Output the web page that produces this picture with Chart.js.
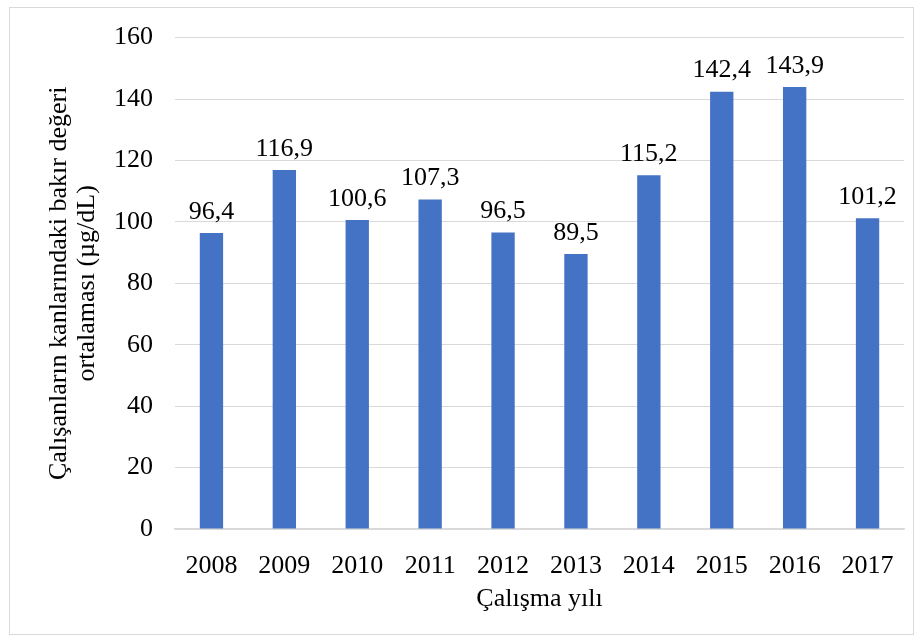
<!DOCTYPE html>
<html>
<head>
<meta charset="utf-8">
<script src="https://cdn.jsdelivr.net/npm/chart.js@4"></script>
<style>
    html, body { margin: 0; padding: 0; background: #fff; }
    #frame {
        position: absolute; left: 9px; top: 7px; width: 905px; height: 628px;
        border: 1.5px solid #d9d9d9; box-sizing: border-box;
    }
    #wrap { position: absolute; left: 0; top: 0; width: 923px; height: 644px; }
</style>
</head>
<body>
<div id="frame"></div>
<div id="wrap"><canvas id="copper"></canvas></div>
<script>
// Çalışma yılları ve bakır ortalamaları
const years = ["2008", "2009", "2010", "2011", "2012", "2013", "2014", "2015", "2016", "2017"];
const copperMeans = [96.4, 116.9, 100.6, 107.3, 96.5, 89.5, 115.2, 142.4, 143.9, 101.2];
const yTicks = [0, 20, 40, 60, 80, 100, 120, 140, 160];

const serif = "'Liberation Serif', 'Times New Roman', serif";

// etiketler: virgüllü ondalık
const barLabels = {
    id: "barLabels",
    afterDatasetsDraw(chart) {
        const ctx = chart.ctx;
        const meta = chart.getDatasetMeta(0);
        ctx.save();
        ctx.font = "26px " + serif;
        ctx.fillStyle = "#000";
        ctx.textAlign = "center";
        ctx.textBaseline = "middle";
        meta.data.forEach((bar, i) => {
            const txt = copperMeans[i].toFixed(1).replace(".", ",");
            ctx.fillText(txt, bar.x, bar.y - 21);
        });
        ctx.restore();
    },
};

new Chart(document.getElementById("copper"), {
    type: "bar",
    data: {
        labels: years,
        datasets: [
            {
                data: copperMeans,
                backgroundColor: "#4472C4",
                barPercentage: 0.32,
                categoryPercentage: 1,
            },
        ],
    },
    options: {
        responsive: true,
        maintainAspectRatio: false,
        animation: false,
        layout: { padding: { left: 40, right: 19, top: 36, bottom: 25 } },
        plugins: {
            legend: { display: false },
            tooltip: { enabled: false },
        },
        scales: {
            x: {
                grid: { display: false },
                border: { display: true, color: "#d9d9d9", width: 1.5 },
                ticks: { color: "#000", font: { family: serif, size: 26 }, padding: 14, maxRotation: 0 },
                title: {
                    display: true,
                    text: "Çalışma yılı",
                    color: "#000",
                    font: { family: serif, size: 26 },
                    padding: 4,
                },
                afterFit(s) { s.height = 90; },
            },
            y: {
                min: 0,
                max: 160,
                afterBuildTicks(s) { s.ticks = yTicks.map((v) => ({ value: v })); },
                grid: { color: "#d9d9d9", lineWidth: 1, drawTicks: false },
                border: { display: false },
                ticks: { color: "#000", font: { family: serif, size: 26 }, padding: 22 },
                title: {
                    display: true,
                    text: ["Çalışanların kanlarındaki bakır değeri", "ortalaması (µg/dL)"],
                    color: "#000",
                    font: { family: serif, size: 26, lineHeight: 1.08 },
                    padding: { top: 5, bottom: 0 },
                },
                afterFit(s) { s.width = 135; },
            },
        },
    },
    plugins: [barLabels],
});
</script>
</body>
</html>
